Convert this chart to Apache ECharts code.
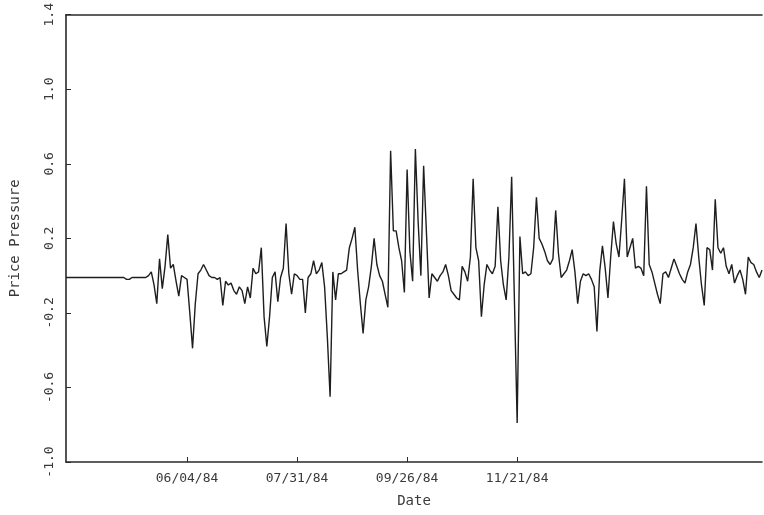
<!DOCTYPE html>
<html><head><meta charset="utf-8">
<script src="https://cdn.jsdelivr.net/npm/echarts@6/dist/echarts.min.js"></script>
<style>html,body{margin:0;padding:0;background:#fff}#c{width:764px;height:515px}</style>
</head><body><div id="c"></div>
<script>
// Daily price pressure
const pressure = [
 -0.01,-0.01,-0.01,-0.01,-0.01,-0.01,-0.01,-0.01,-0.01,-0.01,
 -0.01,-0.01,-0.01,-0.01,-0.01,-0.01,-0.01,-0.01,-0.01,-0.01,
 -0.01,-0.01,-0.02,-0.02,-0.01,-0.01,-0.01,-0.01,-0.01,-0.01,
 0.00,0.02,-0.05,-0.15,0.09,-0.07,0.05,0.22,0.04,0.06,
 -0.03,-0.11,0.00,-0.01,-0.02,-0.20,-0.39,-0.15,0.01,0.03,
 0.06,0.03,0.00,-0.01,-0.01,-0.02,-0.01,-0.16,-0.03,-0.05,
 -0.04,-0.08,-0.10,-0.06,-0.08,-0.15,-0.06,-0.12,0.04,0.01,
 0.02,0.15,-0.22,-0.38,-0.22,-0.01,0.02,-0.14,-0.01,0.04,
 0.28,0.01,-0.10,0.01,0.00,-0.02,-0.02,-0.20,-0.01,0.01,
 0.08,0.01,0.03,0.07,-0.06,-0.33,-0.65,0.02,-0.13,0.01,
 0.01,0.02,0.03,0.15,0.20,0.26,0.03,-0.15,-0.31,-0.13,
 -0.06,0.05,0.20,0.06,0.00,-0.03,-0.10,-0.17,0.67,0.24,
 0.24,0.15,0.08,-0.09,0.57,0.13,-0.03,0.68,0.29,0.00,
 0.59,0.24,-0.12,0.01,-0.01,-0.03,0.00,0.02,0.06,0.00,
 -0.08,-0.10,-0.12,-0.13,0.05,0.02,-0.03,0.10,0.52,0.15,
 0.08,-0.22,-0.05,0.06,0.03,0.01,0.05,0.37,0.08,-0.05,
 -0.13,0.10,0.53,-0.13,-0.79,0.21,0.01,0.02,0.00,0.01,
 0.15,0.42,0.20,0.17,0.13,0.08,0.06,0.09,0.35,0.12,
 -0.01,0.01,0.03,0.08,0.14,0.02,-0.15,-0.03,0.01,0.00,
 0.01,-0.02,-0.06,-0.30,0.02,0.16,0.04,-0.12,0.10,0.29,
 0.17,0.10,0.30,0.52,0.10,0.15,0.20,0.04,0.05,0.04,
 0.00,0.48,0.06,0.02,-0.04,-0.10,-0.15,0.01,0.02,-0.01,
 0.04,0.09,0.05,0.01,-0.02,-0.04,0.02,0.06,0.15,0.28,
 0.10,-0.05,-0.16,0.15,0.14,0.03,0.41,0.15,0.12,0.15,
 0.05,0.01,0.06,-0.04,0.00,0.03,-0.02,-0.10,0.10,0.07,
 0.06,0.02,-0.01,0.03
];
// x tick positions (trading-day index) and their labels
const tickIndex = [44, 84, 124, 164];
const tickLabels = ['06/04/84', '07/31/84', '09/26/84', '11/21/84'];
// y axis ticks
const yMin = -1.0, yMax = 1.4, yStep = 0.4;

const days = pressure.map((_, i) => i);
const labelAt = {};
tickIndex.forEach((k, j) => { labelAt[k] = tickLabels[j]; });
const FONT = 'DejaVu Sans Mono';
const TXT = '#3a3a3a';
const AX = '#2a2a2a';

const chart = echarts.init(document.getElementById('c'));
chart.setOption({
  animation: false,
  backgroundColor: '#ffffff',
  grid: { left: 66, right: 2, top: 13, bottom: 53 },
  xAxis: [{
    type: 'category', data: days, boundaryGap: false,
    axisLine: { onZero: false, lineStyle: { color: AX, width: 1.6 } },
    axisTick: { inside: true, length: 5, interval: (i) => (i in labelAt), lineStyle: { color: AX, width: 1 } },
    axisLabel: { interval: (i) => (i in labelAt), formatter: (v, i) => labelAt[i] || '',
      fontFamily: FONT, fontSize: 13, color: TXT, margin: 10 },
    splitLine: { show: false },
    name: 'Date', nameLocation: 'middle', nameGap: 32,
    nameTextStyle: { fontFamily: FONT, fontSize: 14, color: TXT }
  }, {
    type: 'value', position: 'top', min: 0, max: 1,
    axisLine: { show: true, onZero: false, lineStyle: { color: AX, width: 1.6 } },
    axisTick: { show: false }, axisLabel: { show: false }, splitLine: { show: false }
  }],
  yAxis: {
    type: 'value', min: yMin, max: yMax, interval: yStep,
    axisLine: { show: true, onZero: false, lineStyle: { color: AX, width: 1.6 } },
    axisTick: { show: true, inside: true, length: 5, lineStyle: { color: AX, width: 1 } },
    axisLabel: { rotate: 90, formatter: (v) => v.toFixed(1), fontFamily: FONT, fontSize: 13, color: TXT, margin: 10 },
    splitLine: { show: false },
    name: 'Price Pressure', nameLocation: 'middle', nameGap: 44,
    nameTextStyle: { fontFamily: FONT, fontSize: 14, color: TXT }
  },
  series: [{
    type: 'line', data: pressure, showSymbol: false, symbol: 'none',
    lineStyle: { color: '#1e1e1e', width: 1.4 }
  }]
});
</script></body></html>
